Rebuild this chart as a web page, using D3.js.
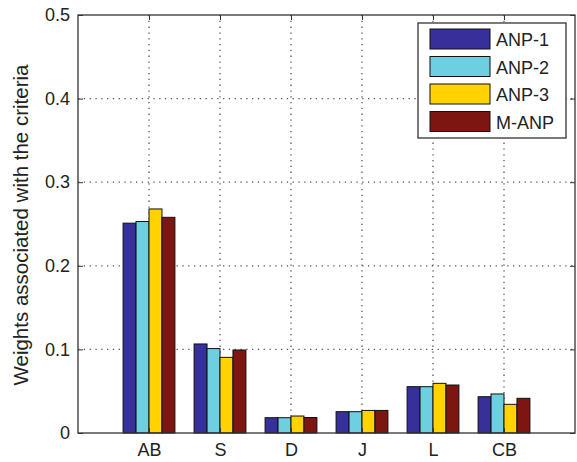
<!DOCTYPE html>
<html><head><meta charset="utf-8">
<script src="https://cdn.jsdelivr.net/npm/d3@7"></script>
<style>body{margin:0;background:#fff}svg{display:block}text{font-family:Arial,"Liberation Sans",sans-serif}</style>
</head><body>
<script>
const categories = ["AB","S","D","J","L","CB"];
const seriesNames = ["ANP-1","ANP-2","ANP-3","M-ANP"];
const anp1 = [0.251,0.1065,0.0183,0.0255,0.0554,0.0434];
const anp2 = [0.253,0.101,0.0183,0.0255,0.0554,0.0467];
const anp3 = [0.268,0.0905,0.0203,0.027,0.0594,0.0343];
const manp = [0.258,0.0993,0.0185,0.027,0.0574,0.0415];
const colors = ["#37309a","#6dcfe0","#ffd200","#7d1611"];
const yTicks = [0,0.1,0.2,0.3,0.4,0.5];
const series = [anp1,anp2,anp3,manp];

const W=577,H=462;
const L=78,R=575,T=15,B=433;
const svg=d3.select("body").append("svg").attr("width",W).attr("height",H);
const x=d3.scaleLinear().domain([0,7]).range([L,R]);
const y=d3.scaleLinear().domain([0,0.5]).range([B,T]);
const groupW=0.73, barW=groupW/4;

// grid
const g=svg.append("g");
g.selectAll("line.gy").data(yTicks.slice(1,-1)).join("line")
 .attr("x1",L).attr("x2",R).attr("y1",d=>y(d)).attr("y2",d=>y(d))
 .attr("stroke","#555").attr("stroke-width",1.3).attr("stroke-dasharray","1.3,4.5");
g.selectAll("line.gx").data(categories).join("line")
 .attr("x1",(d,i)=>x(i+1)).attr("x2",(d,i)=>x(i+1)).attr("y1",T).attr("y2",B)
 .attr("stroke","#555").attr("stroke-width",1.3).attr("stroke-dasharray","1.3,4.5");

// bars
series.forEach((s,si)=>{
  svg.append("g").selectAll("rect").data(s).join("rect")
   .attr("x",(d,i)=>x(i+1-groupW/2+si*barW))
   .attr("width",x(barW)-x(0))
   .attr("y",d=>y(d)).attr("height",d=>y(0)-y(d))
   .attr("fill",colors[si]).attr("stroke","#111").attr("stroke-width",1);
});

// axes
const ax=svg.append("g").attr("transform",`translate(${L},0)`)
 .call(d3.axisLeft(y).tickValues(yTicks).tickFormat(d=>d===0?"0":d3.format(".1f")(d)).tickSize(-5).tickPadding(8));
ax.select(".domain").remove();
ax.selectAll("line").attr("stroke","#333");
ax.selectAll("text").attr("font-size",18).attr("fill","#222");
const axR=svg.append("g").attr("transform",`translate(${R},0)`)
 .call(d3.axisRight(y).tickValues(yTicks).tickFormat("").tickSize(-5));
axR.select(".domain").remove(); axR.selectAll("line").attr("stroke","#333");
const bx=svg.append("g").attr("transform",`translate(0,${B})`)
 .call(d3.axisBottom(x).tickValues(d3.range(1,7)).tickFormat(d=>categories[d-1]).tickSize(-5).tickPadding(10));
bx.select(".domain").remove(); bx.selectAll("line").attr("stroke","#333");
bx.selectAll("text").attr("font-size",18).attr("fill","#222");
const tx=svg.append("g").attr("transform",`translate(0,${T})`)
 .call(d3.axisTop(x).tickValues(d3.range(1,7)).tickFormat("").tickSize(-5));
tx.select(".domain").remove(); tx.selectAll("line").attr("stroke","#333");
svg.append("rect").attr("x",L).attr("y",T).attr("width",R-L).attr("height",B-T)
 .attr("fill","none").attr("stroke","#333").attr("stroke-width",1.3);

// y label
svg.append("text").attr("transform",`translate(28,225) rotate(-90)`)
 .attr("text-anchor","middle").attr("font-size",20.5).attr("fill","#222")
 .text("Weights associated with the criteria");

// legend
const lg=svg.append("g");
lg.append("rect").attr("x",418).attr("y",23).attr("width",148).attr("height",115)
 .attr("fill","#fff").attr("stroke","#333").attr("stroke-width",1.3);
seriesNames.forEach((n,i)=>{
  const yy=29+i*27.5;
  lg.append("rect").attr("x",430).attr("y",yy).attr("width",60).attr("height",20)
   .attr("fill",colors[i]).attr("stroke","#111").attr("stroke-width",1);
  lg.append("text").attr("x",496).attr("y",yy+17).attr("font-size",18).attr("fill","#222").text(n);
});
</script>
</body></html>
